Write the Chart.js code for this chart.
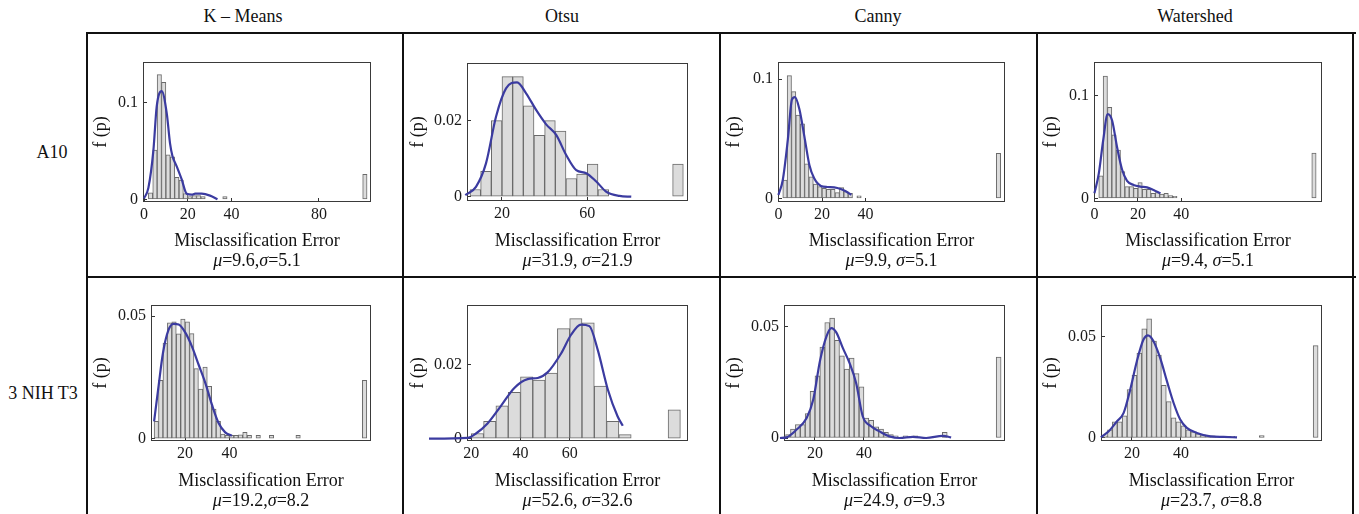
<!DOCTYPE html>
<html>
<head>
<meta charset="utf-8">
<script src="https://cdn.jsdelivr.net/npm/chart.js@4.4.0/dist/chart.umd.min.js"></script>
<style>
  html, body { margin: 0; padding: 0; background: #fff; }
  body { width: 1359px; height: 514px; position: relative; overflow: hidden;
         font-family: 'Liberation Serif', 'Times New Roman', serif; color: #111; }
  .rule { position: absolute; background: #111; }
  .lbl { position: absolute; font-size: 18px; line-height: 1; white-space: nowrap; transform: translate(-50%, -50%); }
  canvas.panel { position: absolute; }
</style>
</head>
<body>
<script>
// Misclassification error histograms + density estimates, 2 cell lines x 4 methods

// CATEGORIES
// ============================================================
const methods   = ['K \u2013 Means', 'Otsu', 'Canny', 'Watershed'];
const cellLines = ['A10', '3 NIH T3'];

// summary stats per method (same order as methods)
const muA10     = [9.6, 31.9, 9.9, 9.4];
const sigmaA10  = [5.1, 21.9, 5.1, 5.1];
const muNIH     = [19.2, 52.6, 24.9, 23.7];
const sigmaNIH  = [8.2, 32.6, 9.3, 8.8];

// A10 - K-Means (bin width 2)
const kmA10BinX = [3, 5, 7, 9, 11, 13, 15, 17, 19, 21, 23, 25, 27, 37, 101];
const kmA10BinY = [0.007, 0.051, 0.129, 0.121, 0.046, 0.044, 0.023, 0.020, 0.006, 0.003, 0.004, 0.004, 0.003, 0.003, 0.026];
const kmA10KdeX = [0, 2, 4.3, 5.8, 8.1, 10.4, 11.9, 13, 15, 17.2, 19.5, 21.8, 23.4, 26.4, 30.2, 33.6];
const kmA10KdeY = [0.001, 0.012, 0.051, 0.096, 0.112, 0.089, 0.058, 0.045, 0.034, 0.021, 0.006, 0.005, 0.006, 0.006, 0.004, 0.0003];
const kmA10XTicks = [0, 20, 40, 80];
const kmA10YTicks = [0, 0.1];

// A10 - Otsu (bin width 5)
const otA10BinX = [7.5, 12.5, 17.5, 22.5, 27.5, 32.5, 37.5, 42.5, 47.5, 52.5, 57.5, 62.5, 67.5, 102.5];
const otA10BinY = [0.0019, 0.0067, 0.0201, 0.0317, 0.0317, 0.024, 0.0162, 0.0201, 0.0173, 0.0048, 0.006, 0.0086, 0.0019, 0.0086];
const otA10KdeX = [2.8, 7.8, 12.5, 17.2, 21.9, 27.1, 31.3, 36.0, 40.7, 45.4, 50.1, 54.8, 59.5, 64.2, 68.9, 75.1, 80.6];
const otA10KdeY = [0.0004, 0.0026, 0.0088, 0.0211, 0.0286, 0.0302, 0.0273, 0.0229, 0.0191, 0.0163, 0.011, 0.007, 0.0062, 0.004, 0.0013, 0.0002, 0];
const otA10XTicks = [20, 60];
const otA10YTicks = [0, 0.02];

// A10 - Canny
const caA10BinX = [3, 5, 7, 9, 11, 13, 15, 17, 19, 21, 23, 25, 27, 29, 31, 33, 37, 101];
const caA10BinY = [0.0154, 0.103, 0.0896, 0.070, 0.0625, 0.029, 0.018, 0.012, 0.0098, 0.0084, 0.0076, 0.0076, 0.0048, 0.009, 0.0056, 0.0042, 0.002, 0.0378];
const caA10KdeX = [0, 2, 4.3, 6.2, 7.6, 9.6, 11.9, 14.2, 16.4, 19.5, 22.5, 25.6, 28.6, 30.9, 33.5];
const caA10KdeY = [0.0028, 0.0154, 0.049, 0.083, 0.085, 0.075, 0.052, 0.028, 0.0168, 0.0104, 0.0095, 0.0092, 0.0078, 0.0059, 0.003];
const caA10XTicks = [0, 20, 40];
const caA10YTicks = [0, 0.1];

// A10 - Watershed
const wsA10BinX = [3, 5, 7, 9, 11, 13, 15, 17, 19, 21, 23, 25, 27, 29, 31, 33, 35, 37, 101];
const wsA10BinY = [0.022, 0.119, 0.0886, 0.0617, 0.047, 0.026, 0.0114, 0.0114, 0.0097, 0.0153, 0.0088, 0.0088, 0.0049, 0.0055, 0.004, 0.0049, 0.0026, 0.002, 0.044];
const wsA10KdeX = [0, 2, 4, 6.1, 8.1, 10.4, 12.7, 15, 18, 21.1, 24.2, 27.2, 30.4];
const wsA10KdeY = [0.005, 0.024, 0.056, 0.082, 0.076, 0.050, 0.028, 0.017, 0.013, 0.0114, 0.0107, 0.0081, 0.0049];
const wsA10XTicks = [0, 20, 40];
const wsA10YTicks = [0, 0.1];

// 3 NIH T3 - K-Means
const kmNIHBinX = [7, 9, 11, 13, 15, 17, 19, 21, 23, 25, 27, 29, 31, 33, 35, 37, 39, 41, 43, 45, 47, 49, 53, 59, 71, 101];
const kmNIHBinY = [0.0071, 0.0238, 0.039, 0.0473, 0.0477, 0.0428, 0.0489, 0.0477, 0.0429, 0.0286, 0.0203, 0.0292, 0.0214, 0.0121, 0.0071, 0.0019, 0.0014, 0.0014, 0.0014, 0.0016, 0.0026, 0.0014, 0.0014, 0.0014, 0.0014, 0.0238];
const kmNIHKdeX = [6, 8, 10, 12.5, 14.8, 17.1, 20.1, 23.1, 26.1, 29.1, 32.1, 35.1, 38.1, 41.1];
const kmNIHKdeY = [0.0071, 0.0214, 0.035, 0.0444, 0.0469, 0.0466, 0.0433, 0.0376, 0.0302, 0.0228, 0.0139, 0.0064, 0.0026, 0.0012];
const kmNIHXTicks = [20, 40];
const kmNIHYTicks = [0, 0.05];

// 3 NIH T3 - Otsu (bin width 5)
const otNIHBinX = [22.5, 27.5, 32.5, 37.5, 42.5, 47.5, 52.5, 57.5, 62.5, 67.5, 72.5, 77.5, 82.5, 102.5];
const otNIHBinY = [0.0014, 0.0047, 0.0089, 0.0125, 0.0167, 0.0158, 0.0177, 0.0297, 0.0324, 0.0313, 0.0142, 0.0047, 0.0011, 0.0078];
const otNIHKdeX = [2.8, 18.5, 21.9, 26.6, 32, 37.5, 42.9, 47, 51, 56.5, 60.5, 64.6, 68, 71.4, 75.5, 79.5, 81.6];
const otNIHKdeY = [0, 0.0002, 0.0014, 0.0041, 0.0088, 0.0137, 0.0161, 0.0164, 0.0179, 0.023, 0.028, 0.0308, 0.0304, 0.024, 0.0133, 0.006, 0.0035];
const otNIHXTicks = [20, 40, 60];
const otNIHYTicks = [0, 0.02];

// 3 NIH T3 - Canny
const caNIHBinX = [9, 11, 13, 15, 17, 19, 21, 23, 25, 27, 29, 31, 33, 35, 37, 39, 41, 43, 45, 47, 49, 51, 53, 57, 61, 73, 95];
const caNIHBinY = [0.0015, 0.004, 0.006, 0.006, 0.011, 0.021, 0.028, 0.041, 0.052, 0.054, 0.044, 0.037, 0.031, 0.036, 0.029, 0.023, 0.009, 0.008, 0.005, 0.004, 0.0025, 0.0015, 0.001, 0.001, 0.001, 0.0025, 0.0365];
const caNIHKdeX = [5.7, 8.4, 12.5, 16.6, 19.3, 22.0, 24.7, 26.7, 28.7, 31.4, 34.1, 36.8, 39.5, 42.9, 46.3, 50.4, 54.5, 60, 65.4, 72.2, 75.6];
const caNIHKdeY = [0, 0.0003, 0.0038, 0.009, 0.0173, 0.0345, 0.0458, 0.0495, 0.0476, 0.0405, 0.0338, 0.0248, 0.0098, 0.0053, 0.003, 0.00075, 0, 0.0005, 0, 0.001, 0.0003];
const caNIHXTicks = [20, 40];
const caNIHYTicks = [0, 0.05];

// 3 NIH T3 - Watershed
const wsNIHBinX = [9, 11, 13, 15, 17, 19, 21, 23, 25, 27, 29, 31, 33, 35, 37, 39, 41, 43, 45, 47, 49, 51, 53, 55, 57, 59, 61, 73, 95];
const wsNIHBinY = [0.001, 0.004, 0.008, 0.008, 0.011, 0.024, 0.031, 0.042, 0.054, 0.059, 0.048, 0.041, 0.026, 0.018, 0.010, 0.008, 0.006, 0.004, 0.003, 0.002, 0.0015, 0.001, 0.001, 0.0008, 0.0008, 0.0008, 0.0008, 0.0012, 0.0457];
const wsNIHKdeX = [7.3, 10.5, 13.9, 16.6, 19.3, 22.0, 24.7, 26.5, 28.8, 31.5, 34.3, 37.0, 39.7, 42.4, 46.5, 52, 57.4, 62.9];
const wsNIHKdeY = [0.0003, 0.0033, 0.0083, 0.0124, 0.024, 0.038, 0.0487, 0.0508, 0.0479, 0.0396, 0.028, 0.0173, 0.0091, 0.005, 0.0025, 0.0008, 0.0005, 0.0003];
const wsNIHXTicks = [20, 40];
const wsNIHYTicks = [0, 0.05];

// LAYOUT
// ============================================================
const SERIF = "'Liberation Serif', 'Times New Roman', serif";
const canvasLeft = [90, 407, 723, 1040];
const canvasTop  = [35, 279];
const canvasH    = [217, 213];
const canvasW    = 312;

// frame = [left, top, right, bottom] of the plot box, page px
const panels = [
  { row: 0, col: 0, bx: kmA10BinX, by: kmA10BinY, kx: kmA10KdeX, ky: kmA10KdeY, xt: kmA10XTicks, yt: kmA10YTicks, sep: ',',  xr: [-0.46, 103.8], yr: [-0.0026, 0.142],  frame: [143, 62, 371, 202] },
  { row: 0, col: 1, bx: otA10BinX, by: otA10BinY, kx: otA10KdeX, ky: otA10KdeY, xt: otA10XTicks, yt: otA10YTicks, sep: ', ', xr: [3.6, 107.2],   yr: [-0.00114, 0.0353], frame: [467, 63, 688, 201] },
  { row: 0, col: 2, bx: caA10BinX, by: caA10BinY, kx: caA10KdeX, ky: caA10KdeY, xt: caA10XTicks, yt: caA10YTicks, sep: ', ', xr: [-0.2, 104],    yr: [-0.0031, 0.1145], frame: [778, 62, 1005, 202] },
  { row: 0, col: 3, bx: wsA10BinX, by: wsA10BinY, kx: wsA10KdeX, ky: wsA10KdeY, xt: wsA10XTicks, yt: wsA10YTicks, sep: ', ', xr: [-0.2, 104.7],  yr: [-0.0036, 0.1327], frame: [1094, 62, 1322, 202] },
  { row: 1, col: 0, bx: kmNIHBinX, by: kmNIHBinY, kx: kmNIHKdeX, ky: kmNIHKdeY, xt: kmNIHXTicks, yt: kmNIHYTicks, sep: ',',  xr: [4.6, 103.9],   yr: [-0.00094, 0.0546], frame: [151, 305, 371, 441] },
  { row: 1, col: 1, bx: otNIHBinX, by: otNIHBinY, kx: otNIHKdeX, ky: otNIHKdeY, xt: otNIHXTicks, yt: otNIHYTicks, sep: ', ', xr: [18.25, 108.1], yr: [-0.00062, 0.0361], frame: [467, 305, 688, 441] },
  { row: 1, col: 2, bx: caNIHBinX, by: caNIHBinY, kx: caNIHKdeX, ky: caNIHKdeY, xt: caNIHXTicks, yt: caNIHYTicks, sep: ', ', xr: [7.35, 97.6],   yr: [-0.00135, 0.0599], frame: [784, 305, 1005, 441] },
  { row: 1, col: 3, bx: wsNIHBinX, by: wsNIHBinY, kx: wsNIHKdeX, ky: wsNIHKdeY, xt: wsNIHXTicks, yt: wsNIHYTicks, sep: ', ', xr: [7.35, 97.6],   yr: [-0.0015, 0.0658], frame: [1101, 305, 1322, 441] },
];

// TABLE
// ============================================================
function rule(l, t, w, h) {
  const d = document.createElement('div');
  d.className = 'rule';
  d.style.cssText = `left:${l}px;top:${t}px;width:${w}px;height:${h}px`;
  document.body.appendChild(d);
}
function label(html, x, y) {
  const d = document.createElement('div');
  d.className = 'lbl';
  d.innerHTML = html;
  d.style.left = x + 'px';
  d.style.top = y + 'px';
  document.body.appendChild(d);
}

rule(86, 32, 1270, 2);
rule(86, 276, 1270, 2);
[86, 402, 719, 1036, 1352].forEach(x => rule(x, 32, 2, 490));

[243, 562, 878, 1195].forEach((x, i) => label(methods[i], x, 16));
label(cellLines[0], 52, 152);
label(cellLines[1], 43, 393);

// PANELS
// ============================================================
const framePlugin = {
  id: 'frame',
  beforeDatasetsDraw(chart) {
    const { ctx, chartArea: a } = chart;
    ctx.save();
    ctx.strokeStyle = '#3a3a3a';
    ctx.lineWidth = 1;
    ctx.strokeRect(Math.round(a.left) + 0.5, Math.round(a.top) + 0.5,
                   Math.round(a.right - a.left) - 1, Math.round(a.bottom - a.top) - 1);
    ctx.restore();
  }
};

function makePanel(p) {
  const cx = canvasLeft[p.col], cy = canvasTop[p.row], ch = canvasH[p.row];
  const [fl, ft, fr, fb] = p.frame;
  const cv = document.createElement('canvas');
  cv.className = 'panel';
  cv.width = canvasW; cv.height = ch;
  cv.style.left = cx + 'px'; cv.style.top = cy + 'px';
  document.body.appendChild(cv);

  const bars = p.bx.map((x, i) => ({ x, y: p.by[i] }));
  const kde  = p.kx.map((x, i) => ({ x, y: p.ky[i] }));
  const tickFont = { family: SERIF, size: 16 };
  const titleFont = { family: SERIF, size: 18 };
  const grid = { display: true, drawOnChartArea: false, drawTicks: true, tickLength: -4, color: '#333', offset: false };

  new Chart(cv, {
    type: 'bar',
    data: { datasets: [
      { type: 'line', data: kde, borderColor: '#3b3ba0', borderWidth: 2.2, pointRadius: 0,
        cubicInterpolationMode: 'monotone', clip: false },
      { type: 'bar', data: bars, backgroundColor: '#dcdcdc', borderColor: '#6a6a6a', borderWidth: 1,
        borderSkipped: false, barPercentage: 1, categoryPercentage: 1, grouped: false },
    ]},
    options: {
      responsive: false, animation: false, events: [],
      layout: { padding: { left: 0, top: ft - cy, right: cx + canvasW - fr, bottom: 0 } },
      plugins: { legend: { display: false }, tooltip: { enabled: false } },
      scales: {
        x: {
          type: 'linear', min: p.xr[0], max: p.xr[1], offset: false,
          afterFit: s => { s.height = cy + ch - fb; },
          afterBuildTicks: s => { s.ticks = p.xt.map(v => ({ value: v })); },
          ticks: { font: tickFont, color: '#1a1a1a', padding: 7, maxRotation: 0, autoSkip: false, callback: v => String(v) },
          grid, border: { display: false },
          title: { display: true, text: 'Misclassification Error', font: titleFont, color: '#111', padding: { top: 0, bottom: 0 } },
        },
        y: {
          type: 'linear', min: p.yr[0], max: p.yr[1],
          afterFit: s => { s.width = fl - cx; },
          afterBuildTicks: s => { s.ticks = p.yt.map(v => ({ value: v })); },
          ticks: { font: tickFont, color: '#1a1a1a', padding: 9, autoSkip: false, callback: v => String(v) },
          grid, border: { display: false },
          title: { display: true, text: 'f (p)', font: titleFont, color: '#111', padding: { top: 0, bottom: 0 } },
        },
      },
    },
    plugins: [framePlugin],
  });

  const mu = (p.row === 0 ? muA10 : muNIH)[p.col];
  const sigma = (p.row === 0 ? sigmaA10 : sigmaNIH)[p.col];
  label(`<i>\u03bc</i>=${mu.toFixed(1)}${p.sep}<i>\u03c3</i>=${sigma.toFixed(1)}`, (fl + fr) / 2, p.row === 0 ? 260 : 500);
}

panels.forEach(makePanel);
</script>
</body>
</html>
